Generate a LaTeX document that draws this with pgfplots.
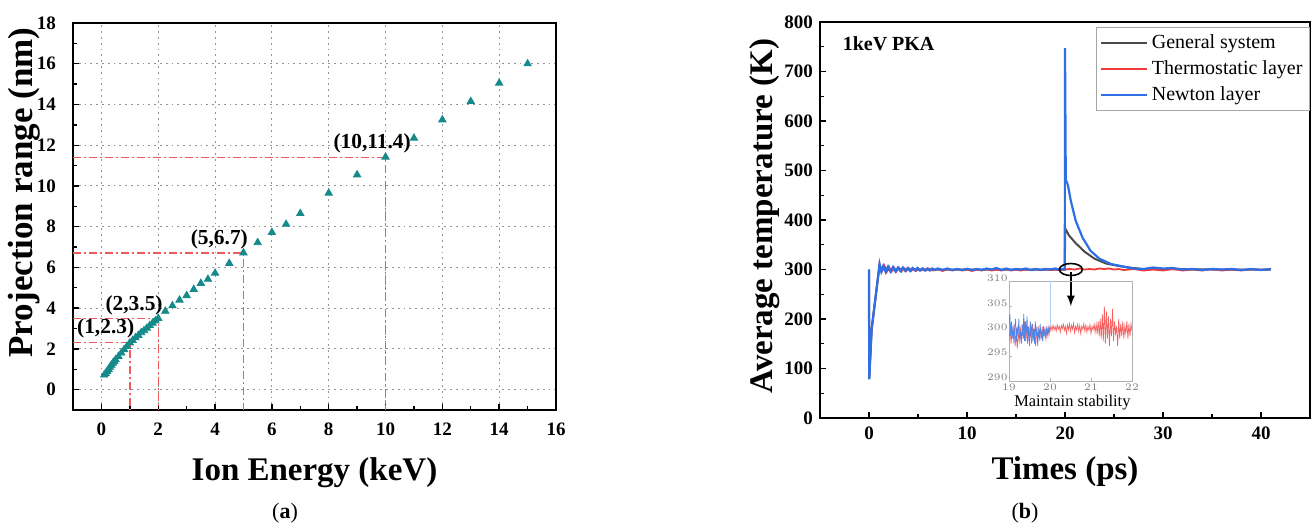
\documentclass[border=0pt]{standalone}
\usepackage{fontspec}
\setmainfont{Liberation Serif}
\usepackage{pgfplots}
\pgfplotsset{compat=1.18}
\definecolor{teal1}{HTML}{168A8A}
\definecolor{nblue}{HTML}{2E6FE6}
\definecolor{tred}{HTML}{F23A3A}
\definecolor{gsys}{HTML}{4A4A4A}
\definecolor{refred}{HTML}{F05A5A}
\pgfplotsset{
  panel/.style={scale only axis, axis line style={line width=1pt}, tick style={line width=0.7pt, black},
    tick align=inside, major tick length=3pt, minor tick length=2pt,
    xtick pos=left, ytick pos=left,
    /pgf/number format/assume math mode=true,
    tick label style={font=\fontsize{9.5}{10}\selectfont\bfseries},
    label style={font=\fontsize{16.5}{18}\selectfont\bfseries}},
  refline/.style={refred, line width=0.7pt, dash pattern=on 4pt off 1.5pt on 1pt off 1.5pt},
}
\begin{document}
\begin{tikzpicture}
\useasboundingbox (0,0) rectangle (656pt,263.5pt);

% ---------- (a) projection range
\begin{axis}[panel, at={(36.5pt,58.5pt)}, anchor=south west, width=241.5pt, height=193.5pt,
  xmin=-1, xmax=16, ymin=-1, ymax=18,
  xtick={0,2,...,16}, ytick={0,2,...,18}, minor x tick num=1, minor y tick num=1,
  xmajorgrids, ymajorgrids, grid style={gray!85, line width=0.5pt, dash pattern=on 0.9pt off 2pt},
  xticklabel style={yshift=-3pt}, yticklabel style={xshift=-5pt},
  xlabel={Ion Energy (keV)}, ylabel={Projection range (nm)},
  xlabel style={at={(axis description cs:0.5,0)}, anchor=center, yshift=-31.5pt},
  ylabel style={at={(axis description cs:-0.102,0.562)}, anchor=center, font=\fontsize{17.5}{19}\selectfont\bfseries}]
  \addplot[refline] coordinates {(-1,2.3) (1,2.3) (1,-1)};
  \addplot[refline] coordinates {(-1,3.5) (2,3.5) (2,-1)};
  \addplot[refline] coordinates {(-1,6.7) (5,6.7) (5,-1)};
  \addplot[refline] coordinates {(-1,11.4) (10,11.4) (10,-1)};
  \addplot[only marks, mark=triangle*, mark size=2.1pt, teal1] coordinates {
    (0.1,0.72) (0.15,0.8) (0.2,0.9) (0.25,1.0) (0.3,1.1) (0.35,1.2) (0.4,1.3) (0.45,1.38)
    (0.5,1.47) (0.6,1.63) (0.7,1.8) (0.8,1.97) (0.9,2.13) (1.0,2.3) (1.1,2.42) (1.2,2.55)
    (1.3,2.67) (1.4,2.8) (1.5,2.9) (1.6,3.02) (1.7,3.15) (1.8,3.27) (1.9,3.38) (2.0,3.5)
    (2.25,3.85) (2.5,4.12) (2.75,4.4) (3,4.62) (3.25,4.92) (3.5,5.22) (3.75,5.42) (4,5.72)
    (4.5,6.2) (5,6.72) (5.5,7.22) (6,7.72) (6.5,8.12) (7,8.65) (8,9.65) (9,10.55)
    (10,11.42) (11,12.35) (12,13.25) (13,14.15) (14,15.05) (15,16.0)};
  \node[font=\fontsize{10.7}{12}\selectfont\bfseries] at (axis cs:0.15,3.03) {(1,2.3)};
  \node[font=\fontsize{10.7}{12}\selectfont\bfseries] at (axis cs:1.15,4.16) {(2,3.5)};
  \node[font=\fontsize{10.7}{12}\selectfont\bfseries] at (axis cs:4.15,7.37) {(5,6.7)};
  \node[font=\fontsize{10.7}{12}\selectfont\bfseries] at (axis cs:9.53,12.11) {(10,11.4)};
\end{axis}

% ---------- (b) average temperature
\begin{axis}[panel, at={(410pt,54.5pt)}, anchor=south west, width=245pt, height=198pt,
  xmin=-5, xmax=45, ymin=0, ymax=800,
  xtick={0,10,...,40}, ytick={0,100,...,800}, minor x tick num=1, minor y tick num=1,
  xticklabel style={yshift=-1pt},
  xlabel={Times (ps)}, ylabel={Average temperature (K)},
  xlabel style={at={(axis description cs:0.5,0)}, anchor=center, yshift=-27pt},
  ylabel style={at={(axis description cs:-0.112,0.51)}, anchor=center},
  legend cell align=left,
  legend style={at={(1,1)}, anchor=north east, yshift=-2.5pt, draw=gray!70, line width=0.6pt,
    font=\fontsize{10}{12}\selectfont, inner sep=1.5pt, row sep=0.5pt},
  legend image code/.code={\draw[#1] (0pt,0pt) -- (23pt,0pt);}]
  \addplot[gsys, line width=1pt] coordinates {
    (0,300) (0.02,80) (0.27,180) (1.08,310) (1.3,296) (1.55,306) (2,299) (3,301) (5,300)
    (10,300) (15,300) (19.98,300) (20.02,383) (20.4,369) (21.1,353) (22,336) (23,322)
    (24.2,312) (25.5,307) (26.9,303) (28,301) (30,301) (35,300) (41,300)};
  \addlegendentry{General system}
  \addplot[tred, line width=0.9pt] coordinates {
    (0,300) (0.02,80) (0.27,180) (1.08,309) (1.3,297) (1.55,308) (1.8,295) (2.05,305)
    (2.3,296) (2.55,304) (2.8,296) (3.05,304) (3.3,296) (3.55,303) (3.8,297) (4.05,303)
    (4.3,297) (4.55,302) (4.8,297) (5.05,302) (5.3,298) (5.55,302) (5.8,298) (6.05,302)
    (6.5,298) (7,301) (7.5,297) (8,301) (8.5,298) (9,301) (9.5,298) (10,300) (10.5,297)
    (11,300) (11.5,298) (12,301) (12.5,298) (13,300) (13.5,298) (14,301) (14.5,298)
    (15,300) (15.5,298) (16,300) (16.5,299) (17,301) (17.5,299) (18,300) (18.5,299)
    (19,300) (19.5,299) (20,300) (20.5,301) (21,300) (21.5,302) (22,300) (22.5,301)
    (23,300) (23.5,302) (24,301) (24.5,302) (25,300) (25.5,301) (26,299) (27,301)
    (28,298) (29,300) (30,298) (31,301) (32,298) (33,300) (34,298) (35,301) (36,298)
    (37,300) (38,298) (39,301) (40,299) (41,301)};
  \addlegendentry{Thermostatic layer}
  \addplot[nblue, line width=1.1pt] coordinates {
    (0,300) (0.02,78) (0.27,179) (1.08,311) (1.25,296) (1.45,307) (1.7,295) (1.95,306)
    (2.2,296) (2.45,305) (2.7,296) (2.95,304) (3.2,297) (3.45,304) (3.7,297) (3.95,303)
    (4.2,297) (4.45,303) (4.7,298) (4.95,303) (5.2,298) (5.45,302) (5.7,298) (5.95,302)
    (6.2,298) (6.45,302) (6.7,299) (7,302) (7.5,299) (8,302) (8.5,299) (9,301) (9.5,299)
    (10,301.5) (10.5,299) (11,301) (11.5,299) (12,302) (12.5,300) (13,303) (13.5,299)
    (14,302) (14.5,299) (15,301) (15.5,300) (16,302) (16.5,299) (17,301) (17.5,299)
    (18,301) (18.5,300) (19,302) (19.5,300) (19.98,301) (20.0,747) (20.08,480) (20.2,476)
    (20.3,470) (20.6,438) (21.1,398) (21.8,364) (22.6,338) (23.5,322) (24.7,311)
    (26.2,305) (27,302) (28,301) (29,304) (30,302) (31,303) (32,300) (33,301) (34,299)
    (35,301) (36,300) (37,301) (38,299) (39,301) (40,299) (41,301)};
  \addlegendentry{Newton layer}
  \node[font=\fontsize{10}{12}\selectfont\bfseries, anchor=west] at (axis cs:-3.4,757) {1keV PKA};
  \draw[black, line width=0.8pt] (axis cs:20.6,300) ellipse [x radius=5.75pt, y radius=3pt];
  \draw[black, line width=0.8pt, -latex] (axis cs:20.6,294) -- (axis cs:20.6,226);
  \node[font=\fontsize{8.2}{9}\selectfont, inner sep=0.5pt] at (axis cs:20.75,31) {Maintain stability};
\end{axis}

% ---------- inset
\begin{axis}[scale only axis, at={(504.5pt,73pt)}, anchor=south west, width=61.5pt, height=49.75pt,
  xmin=19, xmax=22, ymin=290, ymax=310, xtick={19,20,21,22}, ytick={290,295,...,310},
  axis line style={gray!60, line width=0.5pt}, tick style={gray!60, line width=0.4pt},
  tick align=inside, major tick length=1.5pt, xtick pos=left, ytick pos=left,
  tick label style={font=\fontsize{4.5}{5}\selectfont, text=gray, inner sep=0.5pt},
  xticklabel style={yshift=-0.8pt}, yticklabel style={xshift=0pt, yshift=1.8pt}]
  \addplot[tred!80, line width=0.35pt] coordinates {
    (19.000,298) (19.025,301) (19.050,297.5) (19.075,300.5) (19.100,298.5) (19.125,301.5)
    (19.150,297) (19.175,300) (19.200,296.5) (19.225,299.5) (19.250,298) (19.275,301)
    (19.300,297.5) (19.325,300.5) (19.350,298.5) (19.375,302) (19.400,298) (19.425,300.5)
    (19.450,297.5) (19.475,301) (19.500,298.5) (19.525,300) (19.550,297.5) (19.575,301.5)
    (19.600,298.5) (19.625,300.5) (19.650,297) (19.675,300) (19.700,298.5) (19.725,301)
    (19.750,298) (19.775,300.5) (19.800,298.5) (19.825,301) (19.850,299) (19.875,300.5)
    (19.900,298.5) (19.925,300.5) (19.950,299) (19.975,301) (20.000,300) (20.025,301)
    (20.050,300.2) (20.075,301.2) (20.100,300.3) (20.125,301) (20.150,300) (20.175,301.3)
    (20.200,300.4) (20.225,301) (20.250,299.8) (20.275,301.2) (20.300,300.5) (20.325,301.4)
    (20.350,300.2) (20.375,301) (20.400,299.6) (20.425,301.3) (20.450,300.3) (20.475,301.5)
    (20.500,300) (20.525,301.2) (20.550,300.4) (20.575,301.6) (20.600,299.7) (20.625,301)
    (20.650,300.3) (20.675,301.4) (20.700,300) (20.725,301.2) (20.750,299.5) (20.775,301)
    (20.800,300.4) (20.825,301.5) (20.850,300) (20.875,301.2) (20.900,299.8) (20.925,301)
    (20.950,300.2) (20.975,301.3) (21.000,299.6) (21.025,301) (21.050,300.3) (21.075,301.4)
    (21.100,299.8) (21.125,301.5) (21.150,299.5) (21.175,302) (21.200,299) (21.225,302.5)
    (21.250,298.5) (21.275,303.5) (21.300,298) (21.325,305) (21.350,297.5) (21.375,304)
    (21.400,298.5) (21.425,303) (21.450,297) (21.475,302.5) (21.500,299) (21.525,304.5)
    (21.550,298) (21.575,302) (21.600,299.5) (21.625,301) (21.650,297) (21.675,302.5)
    (21.700,298.5) (21.725,301.5) (21.750,299) (21.775,302) (21.800,298.5) (21.825,301)
    (21.850,299.5) (21.875,302) (21.900,298.5) (21.925,301.5) (21.950,299) (21.975,301.5)
    (22.000,300)};
  \addplot[nblue!85, line width=0.35pt] coordinates {
    (19.00,301.5) (19.02,303.5) (19.04,299) (19.06,302) (19.08,298.5) (19.10,301) (19.12,297.5)
    (19.14,300.5) (19.16,302.5) (19.18,298) (19.20,301) (19.22,299) (19.24,302.5) (19.26,298.5)
    (19.28,300) (19.30,297.5) (19.32,301.5) (19.34,299) (19.36,303.5) (19.38,298) (19.40,302)
    (19.42,299.5) (19.44,303) (19.46,298) (19.48,301) (19.50,297) (19.52,302) (19.54,299)
    (19.56,301.5) (19.58,298) (19.60,300.5) (19.62,297.5) (19.64,302) (19.66,299) (19.68,301)
    (19.70,297) (19.72,300.5) (19.74,298.5) (19.76,301.5) (19.78,299) (19.80,300) (19.82,298)
    (19.84,301) (19.86,299) (19.88,300.5) (19.90,298.5) (19.92,301) (19.94,299.5) (19.96,300.5)
    (19.98,299.5) (20.00,301)};
  \addplot[nblue!35, line width=0.4pt] coordinates {(20.0,301) (20.0,312)};
\end{axis}

\node[font=\fontsize{11}{12}\selectfont] at (142.5pt,7pt) {(\textbf{a})};
\node[font=\fontsize{11}{12}\selectfont] at (512.5pt,7pt) {(\textbf{b})};
\end{tikzpicture}
\end{document}
